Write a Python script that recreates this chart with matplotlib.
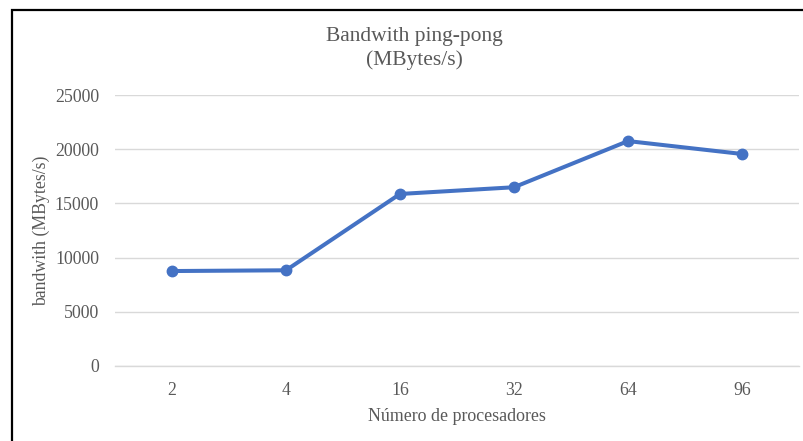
import matplotlib
matplotlib.use("Agg")
import matplotlib.pyplot as plt
from matplotlib.patches import Rectangle

# Data
procesadores = ["2", "4", "16", "32", "64", "96"]
bandwidth = [8760, 8830, 15870, 16490, 20750, 19560]
y_ticks = [0, 5000, 10000, 15000, 20000, 25000]

W, H = 804, 441
DPI = 100
plt.rcParams['font.family'] = ['Liberation Serif', 'DejaVu Serif']
text_color = '#595959'
line_color = '#4472C4'
grid_color = '#D9D9D9'

fig = plt.figure(figsize=(W / DPI, H / DPI), dpi=DPI)
fig.patch.set_facecolor('white')

# Plot area in pixels: x 115..799, y 95..366
left, right, top, bottom = 115, 799, 95, 366
ax = fig.add_axes([left / W, 1 - bottom / H, (right - left) / W, (bottom - top) / H])

x = list(range(len(procesadores)))
ax.plot(x, bandwidth, color=line_color, linewidth=2.9, marker='o',
        markersize=7.5, solid_capstyle='round', zorder=3)

ax.set_xlim(-0.5, len(procesadores) - 0.5)
ax.set_ylim(0, 25000)
ax.set_yticks(y_ticks)
ax.set_yticklabels([str(v) for v in y_ticks])
ax.set_xticks(x)
ax.set_xticklabels(procesadores)
ax.grid(axis='y', color=grid_color, linewidth=1.0)
ax.set_axisbelow(True)
for s in ['top', 'right', 'left']:
    ax.spines[s].set_visible(False)
ax.spines['bottom'].set_color(grid_color)
ax.spines['bottom'].set_linewidth(1.0)
ax.tick_params(axis='both', length=0, labelsize=12.8, colors=text_color)
ax.tick_params(axis='y', pad=11.5)
ax.tick_params(axis='x', pad=11.5)

ax.set_xlabel("Número de procesadores", fontsize=12.9, color=text_color, labelpad=6.5)
ax.set_ylabel("bandwith (MBytes/s)", fontsize=12.8, color=text_color, labelpad=3.5)

fig.text(414 / W, 1 - 36 / H, "Bandwith ping-pong", ha='center', va='center',
         fontsize=15.5, color=text_color)
fig.text(414 / W, 1 - 60 / H, "(MBytes/s)", ha='center', va='center',
         fontsize=15.5, color=text_color)

# Chart frame
fig.patches.append(Rectangle((12.5 / W, -0.1), 1.2, 1.1 - 9.5 / H,
                             transform=fig.transFigure, fill=False,
                             edgecolor='black', linewidth=1.6))

fig.savefig("out.png", dpi=DPI, facecolor='white')
